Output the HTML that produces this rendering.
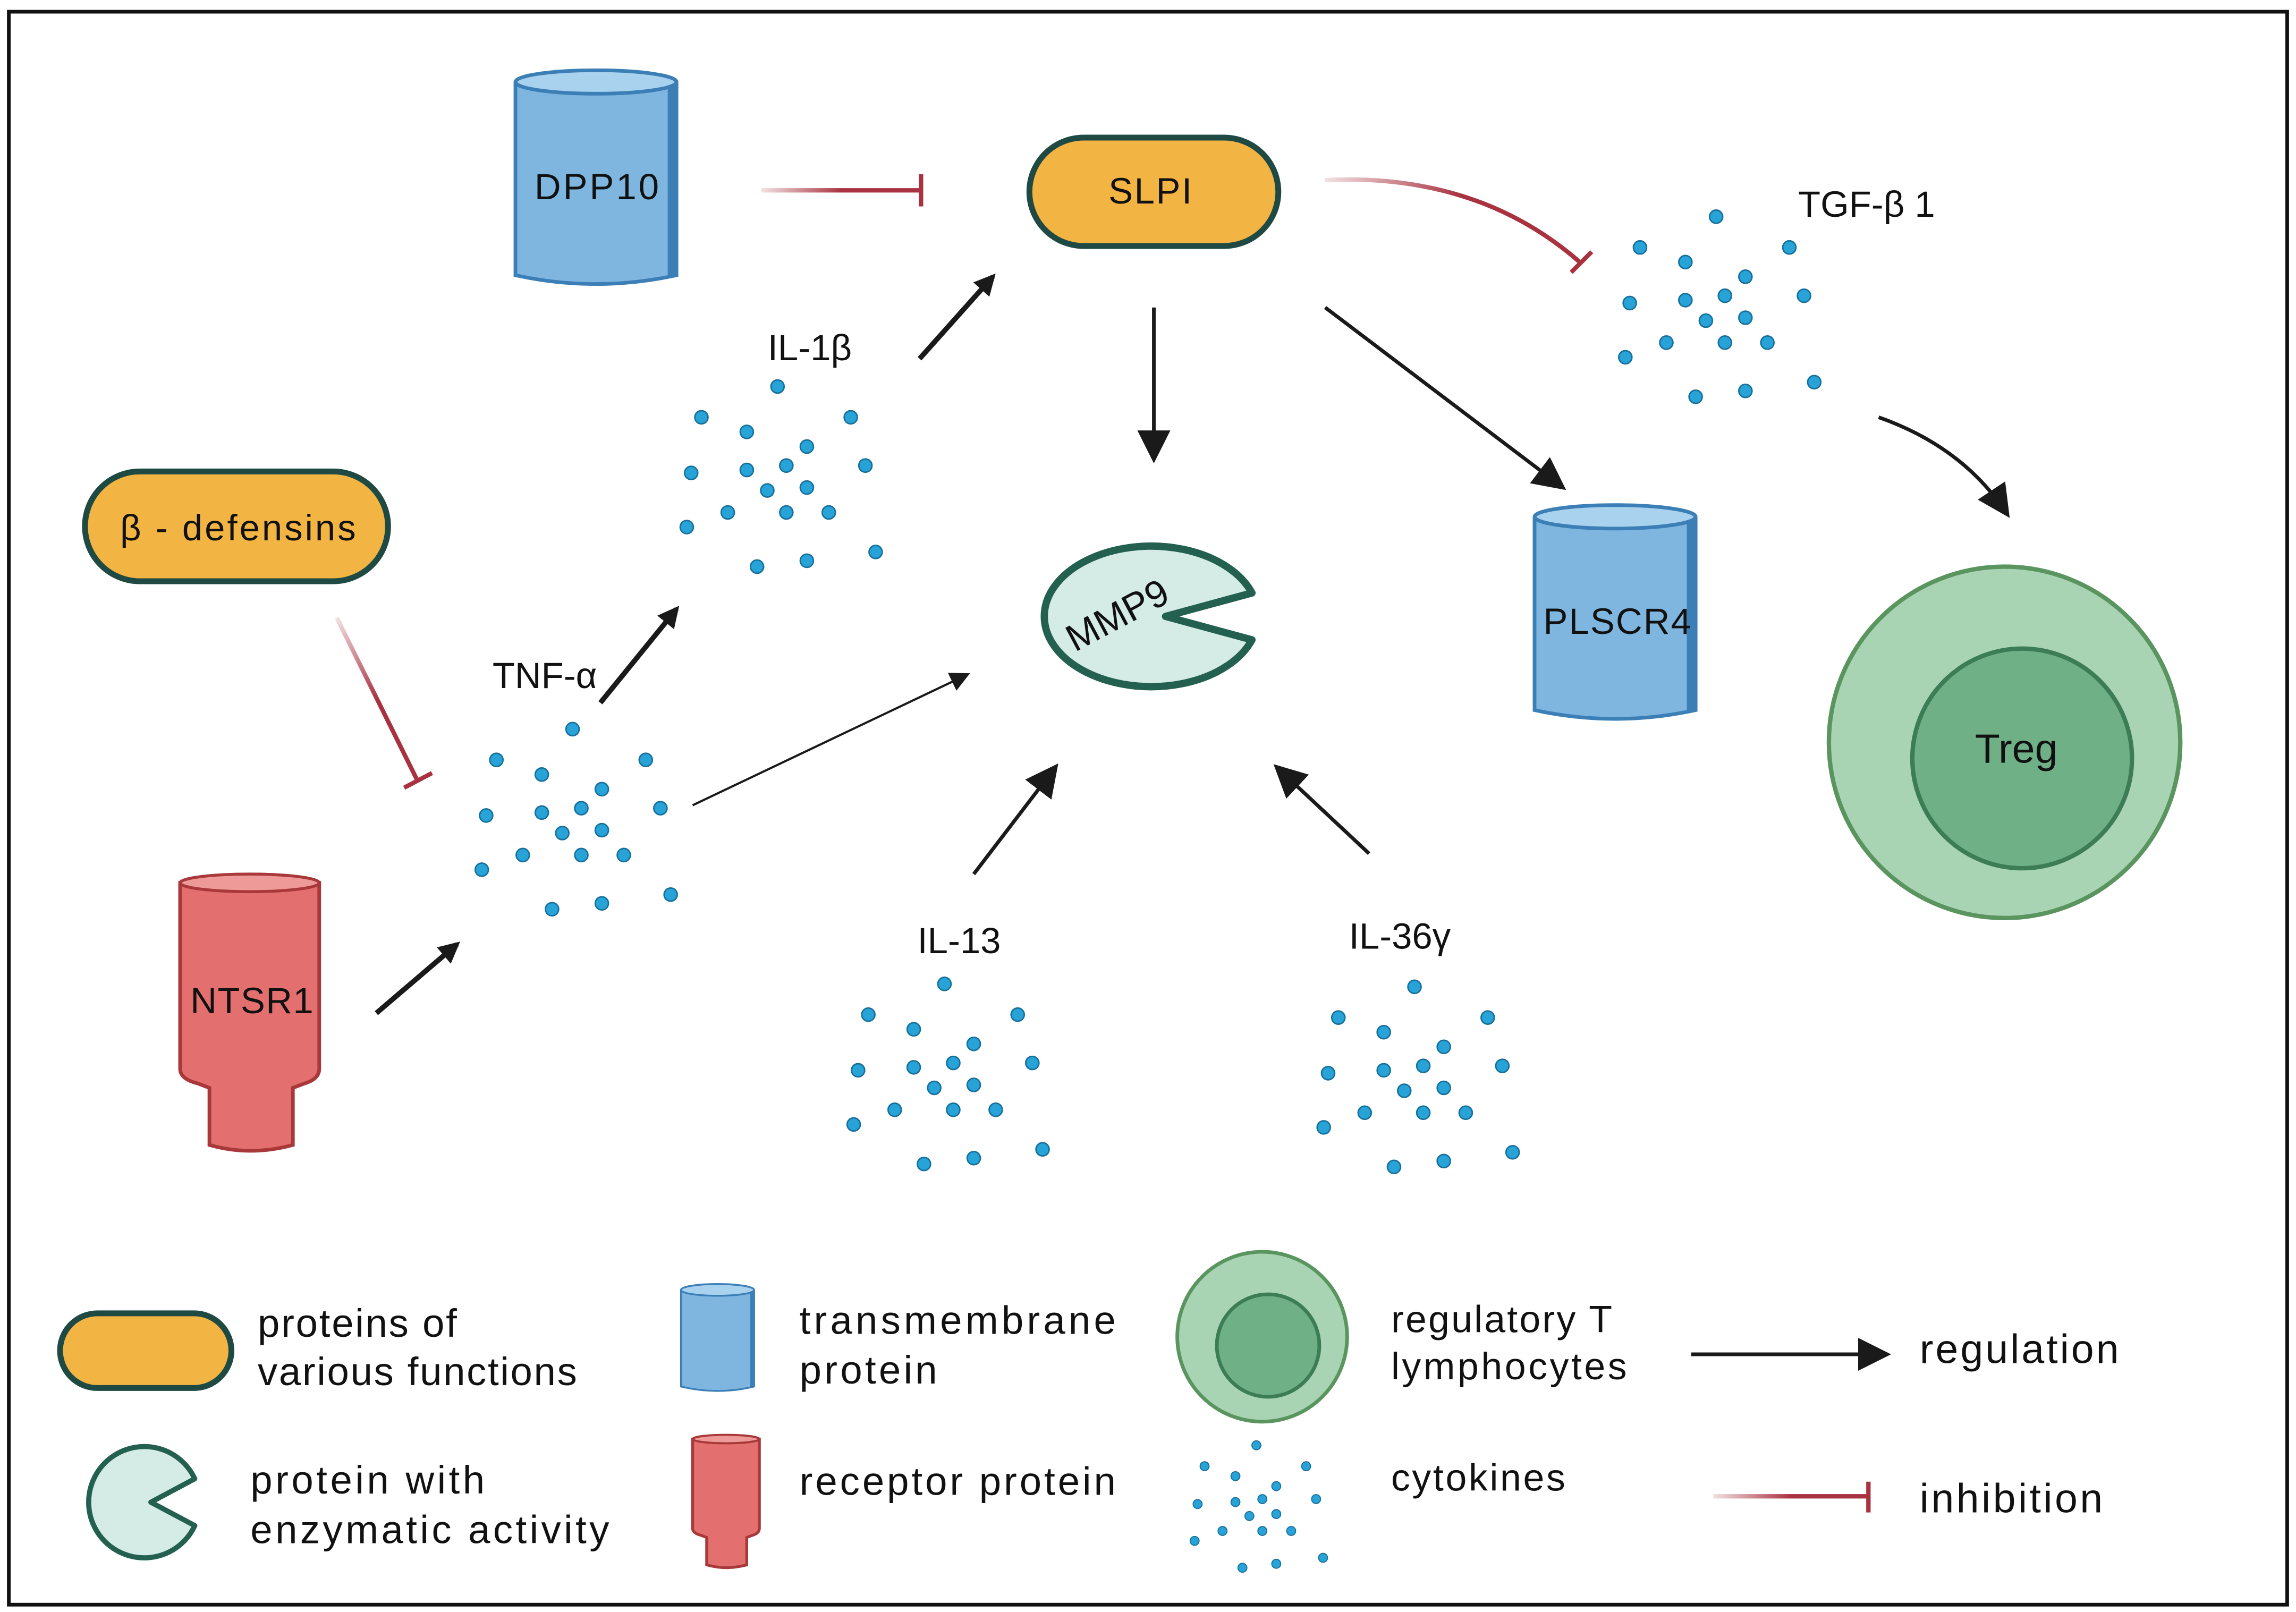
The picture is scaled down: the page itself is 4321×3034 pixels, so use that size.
<!DOCTYPE html>
<html><head><meta charset="utf-8">
<style>
html,body{margin:0;padding:0;background:#fff;}
svg{display:block;}
text{font-family:"Liberation Sans",sans-serif;fill:#111;}
</style></head>
<body>
<svg width="4321" height="3034" viewBox="0 0 1568 1101" xmlns="http://www.w3.org/2000/svg">
<defs>
<marker id="ah" viewBox="0 0 10 10" refX="8" refY="5" markerWidth="4.2" markerHeight="4.2" orient="auto" markerUnits="strokeWidth">
<path d="M0,0 L10,5 L0,10 z" fill="#1a1a1a"/></marker>
<marker id="ahs" viewBox="0 0 10 10" refX="8" refY="5" markerWidth="9" markerHeight="9" orient="auto" markerUnits="strokeWidth">
<path d="M0,0 L10,5 L0,10 z" fill="#1a1a1a"/></marker>
<g id="dots" fill="#27a3d8" stroke="#17709b" stroke-width="1">
<circle cx="0" cy="-63" r="4.5"/><circle cx="-52" cy="-42" r="4.5"/><circle cx="50" cy="-42" r="4.5"/>
<circle cx="-21" cy="-32" r="4.5"/><circle cx="20" cy="-22" r="4.5"/><circle cx="-59" cy="-4" r="4.5"/>
<circle cx="-21" cy="-6" r="4.5"/><circle cx="6" cy="-9" r="4.5"/><circle cx="60" cy="-9" r="4.5"/>
<circle cx="-7" cy="8" r="4.5"/><circle cx="20" cy="6" r="4.5"/><circle cx="-34" cy="23" r="4.5"/>
<circle cx="6" cy="23" r="4.5"/><circle cx="35" cy="23" r="4.5"/><circle cx="-62" cy="33" r="4.5"/>
<circle cx="67" cy="50" r="4.5"/><circle cx="-14" cy="60" r="4.5"/><circle cx="20" cy="56" r="4.5"/>
</g>
<g id="cyl">
<path d="M0,8 L0,140 Q55,152 110,140 L110,8" fill="#7fb6df" stroke="#3b7fb6" stroke-width="2.5"/>
<path d="M104,8 L104,142 L110,140 L110,8z" fill="#3b7fb6"/>
<ellipse cx="55" cy="8" rx="55" ry="8" fill="#a9d2ef" stroke="#3b7fb6" stroke-width="2.5"/>
</g>
<linearGradient id="gi1" gradientUnits="userSpaceOnUse" x1="520" y1="130" x2="630" y2="130"><stop offset="0" stop-color="#a8323f" stop-opacity="0.15"/><stop offset="0.5" stop-color="#a8323f"/></linearGradient>
<linearGradient id="gi2" gradientUnits="userSpaceOnUse" x1="905" y1="123" x2="1080" y2="180"><stop offset="0" stop-color="#a8323f" stop-opacity="0.15"/><stop offset="0.5" stop-color="#a8323f"/></linearGradient>
<linearGradient id="gi3" gradientUnits="userSpaceOnUse" x1="230" y1="422" x2="285" y2="535"><stop offset="0" stop-color="#a8323f" stop-opacity="0.15"/><stop offset="0.5" stop-color="#a8323f"/></linearGradient>
<linearGradient id="gi4" gradientUnits="userSpaceOnUse" x1="1170" y1="1022" x2="1277" y2="1022"><stop offset="0" stop-color="#a8323f" stop-opacity="0.15"/><stop offset="0.5" stop-color="#a8323f"/></linearGradient>
</defs>
<rect x="6" y="8" width="1556" height="1088" fill="#fff" stroke="#111" stroke-width="2.5"/>

<use href="#cyl" x="352" y="48"/>
<text x="365" y="136" font-size="25" textLength="85">DPP10</text>
<line x1="520" y1="130" x2="629" y2="130" stroke="url(#gi1)" stroke-width="3"/>
<line x1="629" y1="119" x2="629" y2="141" stroke="#a8323f" stroke-width="3"/>

<rect x="703" y="94" width="170" height="74" rx="37" fill="#f2b443" stroke="#1f4a43" stroke-width="4"/>
<text x="757" y="139" font-size="25" textLength="57">SLPI</text>
<path d="M905,123 Q1010,118 1080,180" fill="none" stroke="url(#gi2)" stroke-width="3"/>
<line x1="1073" y1="186" x2="1087" y2="172" stroke="#a8323f" stroke-width="3"/>

<text x="1228" y="148" font-size="25">TGF-β 1</text>
<use href="#dots" x="1172" y="211"/>
<path d="M1283,285 Q1340,305 1370,350" fill="none" stroke="#1a1a1a" stroke-width="2.5" marker-end="url(#ahs)"/>

<text x="553" y="246" font-size="25" text-anchor="middle">IL-1β</text>
<use href="#dots" x="531" y="327"/>
<line x1="628" y1="245" x2="678" y2="189" stroke="#1a1a1a" stroke-width="3.5" marker-end="url(#ah)"/>

<line x1="788" y1="210" x2="788" y2="312" stroke="#1a1a1a" stroke-width="2.5" marker-end="url(#ahs)"/>
<line x1="905" y1="210" x2="1066" y2="332" stroke="#1a1a1a" stroke-width="2.5" marker-end="url(#ahs)"/>

<rect x="58" y="322" width="207" height="75" rx="37.5" fill="#f2b443" stroke="#1f4a43" stroke-width="4"/>
<text x="82" y="369" font-size="25" textLength="161">β - defensins</text>
<line x1="230" y1="422" x2="285" y2="533" stroke="url(#gi3)" stroke-width="3"/>
<line x1="276" y1="538" x2="295" y2="528" stroke="#a8323f" stroke-width="3"/>

<text x="372" y="470" font-size="25" text-anchor="middle">TNF-α</text>
<use href="#dots" x="391" y="561"/>
<line x1="410" y1="480" x2="462" y2="416" stroke="#1a1a1a" stroke-width="3.5" marker-end="url(#ah)"/>
<line x1="473" y1="550" x2="660" y2="461" stroke="#1a1a1a" stroke-width="1.5" marker-end="url(#ahs)"/>

<path d="M855,405 A73,48 0 1 0 855,437 L796,421 Z" fill="#d5ece6" stroke="#236050" stroke-width="5" stroke-linejoin="round"/>
<text x="763" y="429" font-size="26" text-anchor="middle" transform="rotate(-28 763 420)">MMP9</text>

<use href="#cyl" x="1048" y="345"/>
<text x="1054" y="433" font-size="25" textLength="101">PLSCR4</text>

<circle cx="1369" cy="507" r="120" fill="#a9d4b3" stroke="#5a9560" stroke-width="3"/>
<circle cx="1381" cy="518" r="75" fill="#6fb086" stroke="#3c7d56" stroke-width="3"/>
<text x="1377" y="521" font-size="28" text-anchor="middle">Treg</text>

<path d="M123,603 L123,730 Q123,737 135,740 L143,743 L143,782 Q171,790 200,782 L200,743 L208,740 Q218,737 218,730 L218,603 Z" fill="#e3706e" stroke="#a8383a" stroke-width="2.5"/>
<ellipse cx="170.5" cy="603" rx="47.5" ry="6" fill="#ee9a98" stroke="#a8383a" stroke-width="2"/>
<text x="130" y="692" font-size="25" textLength="84">NTSR1</text>
<line x1="257" y1="692" x2="312" y2="645" stroke="#1a1a1a" stroke-width="3.5" marker-end="url(#ah)"/>

<text x="655" y="651" font-size="25" text-anchor="middle">IL-13</text>
<use href="#dots" x="645" y="735"/>
<line x1="665" y1="597" x2="720" y2="525" stroke="#1a1a1a" stroke-width="2.5" marker-end="url(#ahs)"/>

<text x="956" y="648" font-size="25" text-anchor="middle">IL-36γ</text>
<use href="#dots" x="966" y="737"/>
<line x1="935" y1="583" x2="873" y2="525" stroke="#1a1a1a" stroke-width="2.5" marker-end="url(#ahs)"/>

<rect x="41" y="897" width="117" height="51" rx="25.5" fill="#f2b443" stroke="#1f4a43" stroke-width="4"/>
<text x="176" y="913" font-size="27" textLength="136">proteins of</text>
<text x="176" y="946" font-size="27" textLength="218">various functions</text>

<g transform="translate(465,877) scale(0.455,0.5)"><use href="#cyl"/></g>
<text x="546" y="911" font-size="27" textLength="216">transmembrane</text>
<text x="546" y="945" font-size="27" textLength="94">protein</text>

<circle cx="862" cy="913" r="58" fill="#a9d4b3" stroke="#5a9560" stroke-width="2.5"/>
<circle cx="866" cy="919" r="35" fill="#6fb086" stroke="#3c7d56" stroke-width="2.5"/>
<text x="950" y="910" font-size="26" textLength="151">regulatory T</text>
<text x="950" y="942" font-size="26" textLength="161">lymphocytes</text>

<line x1="1155" y1="925" x2="1287" y2="925" stroke="#1a1a1a" stroke-width="2.5" marker-end="url(#ahs)"/>
<text x="1311" y="931" font-size="28" textLength="136">regulation</text>

<path d="M133,1010 A38,38 0 1 0 133,1042 L103,1026 Z" fill="#d5ece6" stroke="#236050" stroke-width="3.5" stroke-linejoin="round"/>
<text x="171" y="1020" font-size="27" textLength="160">protein with</text>
<text x="171" y="1054" font-size="27" textLength="245">enzymatic activity</text>

<g transform="translate(473,980) scale(0.48,0.48) translate(-123,-597)">
<path d="M123,603 L123,730 Q123,737 135,740 L143,743 L143,782 Q171,790 200,782 L200,743 L208,740 Q218,737 218,730 L218,603 Z" fill="#e3706e" stroke="#a8383a" stroke-width="4"/>
<ellipse cx="170.5" cy="603" rx="47.5" ry="6" fill="#ee9a98" stroke="#a8383a" stroke-width="3"/>
</g>
<text x="546" y="1021" font-size="27" textLength="216">receptor protein</text>

<g transform="translate(858,1030) scale(0.68)"><use href="#dots"/></g>
<text x="950" y="1018" font-size="26" textLength="119">cytokines</text>

<line x1="1170" y1="1022" x2="1276" y2="1022" stroke="url(#gi4)" stroke-width="3"/>
<line x1="1276" y1="1012" x2="1276" y2="1033" stroke="#a8323f" stroke-width="3"/>
<text x="1311" y="1033" font-size="28" textLength="125">inhibition</text>
</svg>
</body></html>
